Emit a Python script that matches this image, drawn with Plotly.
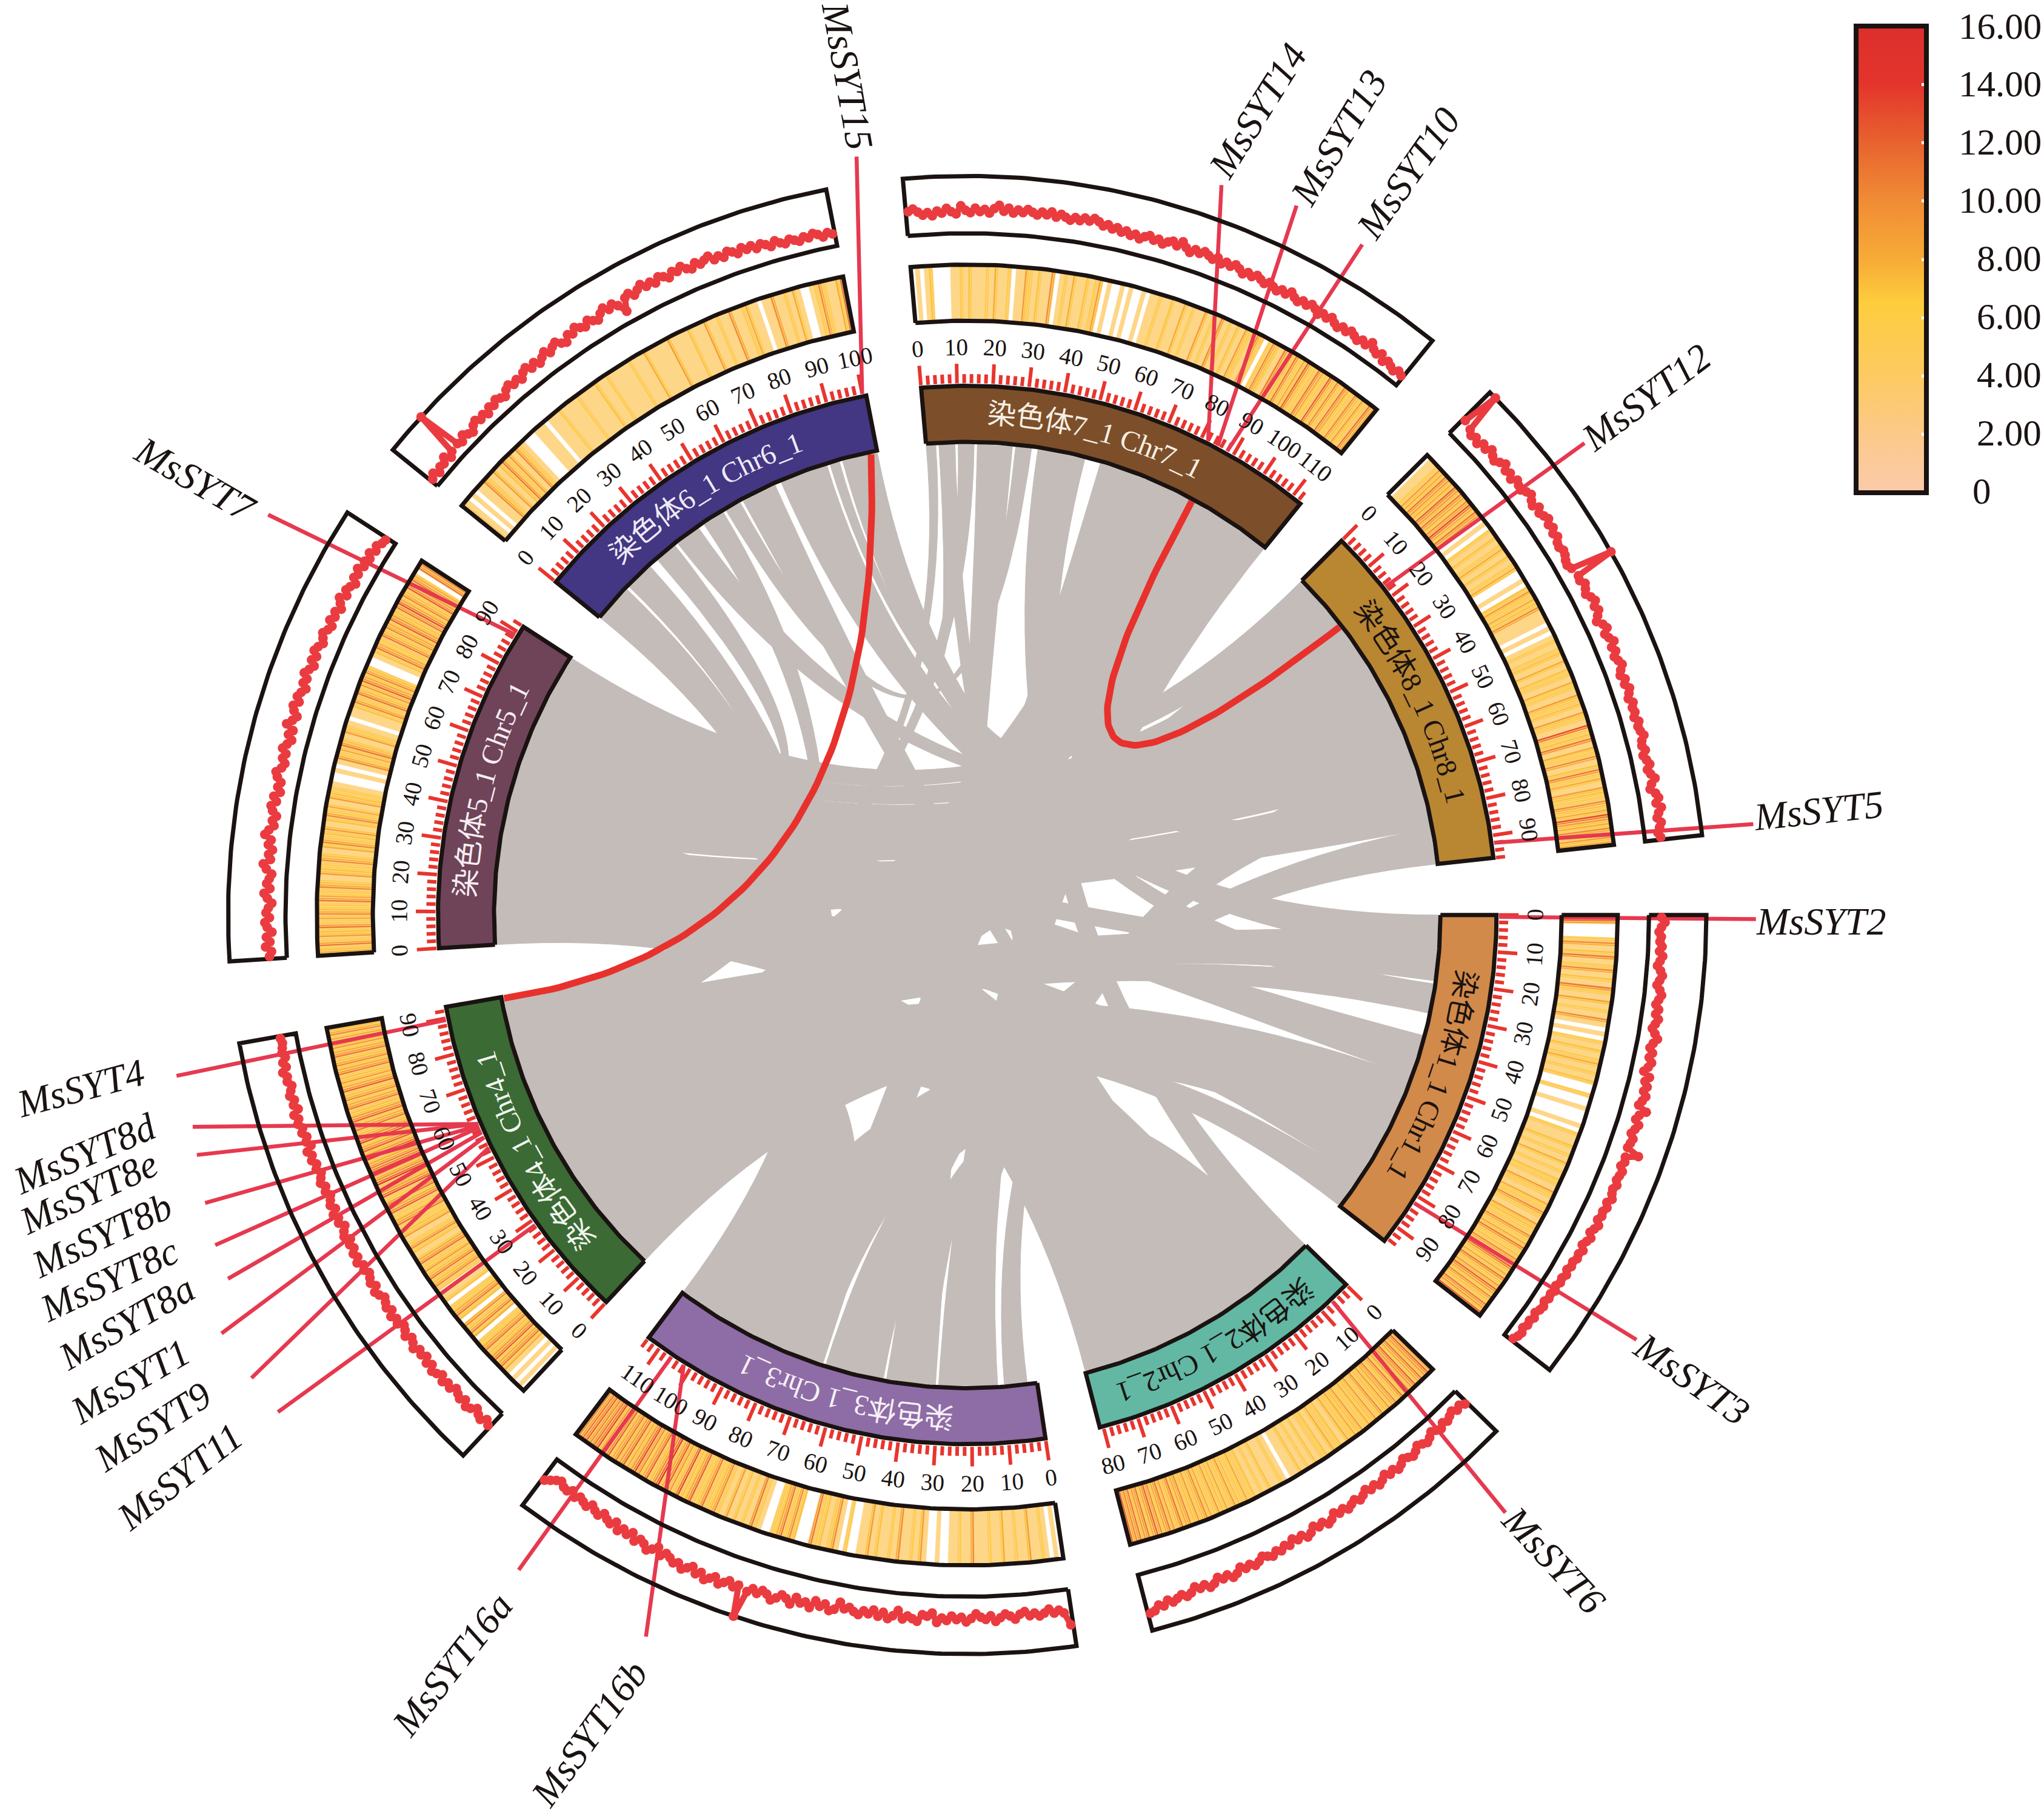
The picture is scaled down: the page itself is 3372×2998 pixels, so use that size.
import math
import plotly.graph_objects as go

W, H = 3372, 2998
DISP_W, DISP_H = 1568.0, 1394.0
CX, CY = 742.0, 702.0
PX = W / DISP_W

# ---------- chromosomes ----------
chrom_ids = [1, 2, 3, 4, 5, 6, 7, 8]
chrom_len = [95, 81, 114, 93, 92, 101, 113, 96]
chrom_start_deg = [90.0, 134.3, 171.5, 223.0, 266.4, 309.0, -5.0, 45.0]
chrom_end_deg = [128.0, 165.5, 217.0, 260.0, 303.0, 349.0, 39.0, 83.8]
chrom_color = ["#d18a4a", "#62b8a3", "#8e6ca6", "#3b6a35", "#6f4459", "#433682", "#7c4f2a", "#b98632"]
chrom_text_color = ["#1a1311", "#1a1311", "#f6f0f5", "#f2f6ee", "#f6eef2", "#eeeaf6", "#f7efe4", "#1a1311"]
chrom_label_shift = [0, 0, 0, 0, 0, -1, -2, 0]

# ---------- gene density heat ring (-1 = no data) ----------
heat_chr1 = [10,9,-1,-1,-1,4,8,3,5,9,3,4,8,3,5,3,9,4,3,7,3,4,3,8,3,-1,2,-1,4,3,5,3,4,6,3,4,3,5,-1,-1,4,-1,-1,3,-1,-1,-1,2,-1,4,3,3,5,3,4,3,6,3,4,3,5,4,3,7,4,3,6,4,8,4,3,7,5,4,8,4,6,9,4,5,8,5,10,5,6,9,5,7,10,6,8,5,9,7,10]
heat_chr2 = [8,10,7,9,6,10,7,8,6,9,5,8,6,7,5,8,4,7,5,6,4,7,5,6,4,6,3,5,4,6,3,5,4,3,5,3,4,3,5,3,3,-1,3,4,3,3,5,3,4,3,5,4,6,4,5,7,4,6,5,7,4,6,8,5,7,5,8,6,9,5,7,9,6,8,10,6,9,7,9,8,10]
heat_chr3 = [-1,3,-1,3,4,3,3,7,3,3,4,3,3,6,3,3,4,3,3,3,8,3,3,4,3,3,-1,-1,3,-1,-1,3,7,3,4,3,3,8,3,4,3,3,5,3,7,3,3,-1,-1,4,-1,3,8,4,3,5,4,9,-1,-1,-1,5,8,4,9,6,4,-1,-1,3,4,9,3,4,3,5,3,7,3,4,8,5,4,9,5,4,10,6,5,11,5,7,10,6,12,8,5,10,6,8,11,7,6,10,7,9,6,10,8,7,11,9,8,10,9,8]
heat_chr4 = [-1,2,-1,3,-1,2,6,9,6,10,7,5,9,6,4,-1,6,9,5,8,-1,5,9,6,4,-1,5,3,-1,4,8,5,9,5,7,4,9,6,3,5,8,4,3,7,5,4,9,6,4,10,6,9,4,11,7,5,12,8,5,11,9,6,12,7,10,6,11,8,5,9,6,10,7,5,9,6,8,5,10,6,7,5,9,6,8,5,9,6,7,10,6,8,5]
heat_chr5 = [8,5,9,4,7,5,9,4,6,8,5,4,9,6,4,8,5,3,7,5,4,8,5,3,6,8,4,5,7,3,5,8,4,6,3,7,5,4,3,-1,-1,2,-1,3,8,4,6,9,5,3,7,4,3,-1,3,2,5,8,4,9,5,7,10,6,8,5,-1,-1,3,5,9,6,4,9,5,8,6,10,7,5,9,11,6,8,5,10,7,9,6,-1,9,8]
heat_chr6 = [4,3,-1,2,-1,3,3,8,4,3,7,3,5,9,4,7,3,8,4,3,-1,-1,-1,3,3,3,-1,2,3,3,4,3,3,3,3,4,3,3,3,3,5,3,3,4,3,3,3,3,3,4,3,3,3,6,3,3,3,3,3,7,3,3,3,3,5,3,3,3,7,3,3,4,3,3,8,3,3,4,6,3,3,-1,3,3,8,3,3,4,3,6,3,-1,-1,2,4,8,4,3,3,6,9]
heat_chr7 = [-1,3,-1,3,5,-1,-1,-1,-1,3,3,4,3,5,3,3,3,4,3,6,3,3,4,-1,3,3,7,4,3,5,3,3,8,-1,3,4,3,6,3,3,5,3,4,7,-1,3,-1,-1,3,-1,3,-1,-1,3,-1,3,3,4,3,3,5,3,3,6,3,4,3,3,7,3,4,3,8,3,4,3,5,3,7,4,3,8,4,-1,4,8,5,3,9,4,5,9,4,6,10,5,4,9,6,4,10,5,8,4,9,6,4,8,5,7,4,9,6]
heat_chr8 = [-1,2,3,4,7,6,9,7,6,10,7,9,6,8,11,6,9,7,-1,2,-1,4,3,5,3,4,6,3,5,3,4,6,-1,-1,2,-1,5,7,4,6,5,8,3,3,3,-1,2,-1,3,4,3,4,5,3,6,3,5,4,3,6,4,3,7,4,5,3,7,4,3,11,4,5,9,3,6,4,8,3,5,9,4,6,3,7,5,4,8,5,6,11,7,6,8,5,7,6]
heat_values = [heat_chr1, heat_chr2, heat_chr3, heat_chr4, heat_chr5, heat_chr6, heat_chr7, heat_chr8]

# ---------- line track, percent of ring width from inner edge ----------
line_chr1 = [22,28,22,18,22,20,24,20,26,22,18,24,28,24,20,26,30,26,22,28,24,30,26,22,28,34,28,24,30,26,32,28,22,34,28,34,30,36,32,28,44,34,30,38,34,30,36,34,32,55,34,36,32,38,36,34,38,34,36,40,34,38,34,36,32,38,34,30,36,32,28,34,30,32,28,30,26,30,26,28,24,28,24,26,22,26,24,20,24,20,22,18,22,20,16]
line_chr2 = [28,22,26,20,24,28,24,30,26,22,28,32,28,24,30,34,30,26,32,36,30,34,28,34,38,32,36,30,36,40,34,38,42,36,40,34,42,46,38,42,36,44,48,40,44,38,46,42,48,44,50,46,42,48,52,46,50,44,52,56,48,52,46,54,58,50,54,48,56,60,54,58,62,56,64,60,68,70]
line_chr3 = [62,40,34,38,30,36,40,34,38,30,34,42,36,32,38,44,34,40,36,30,38,44,36,40,34,42,38,46,30,36,34,46,42,38,44,30,40,46,36,44,34,42,38,46,42,36,40,30,44,48,38,44,36,50,42,46,38,52,44,40,48,54,46,42,50,44,52,100,46,52,44,50,56,46,52,58,48,54,44,50,56,48,52,46,42,50,38,46,52,44,40,48,36,44,38,46,34,42,38,32,40,36,30,38,34,30,36,28,34,32,26,30,36,42]
line_chr4 = [32,26,34,30,24,32,36,28,34,30,26,34,30,36,28,34,38,30,36,28,34,30,38,32,28,36,30,26,34,30,36,28,34,30,26,32,36,28,34,30,26,32,28,36,30,34,28,32,26,34,30,24,32,28,34,26,32,28,24,30,26,32,28,24,30,26,32,28,34,24,30,26,32,28,34,30,36,26,32,28,34,30,26,32,30,36,28,32,26,30,28,26,28]
line_chr5 = [30,26,36,28,34,24,32,36,28,34,30,24,32,38,28,34,30,26,36,42,30,34,28,36,32,44,38,30,34,28,36,40,32,38,28,34,30,38,42,34,30,36,32,40,34,28,36,30,44,36,30,38,42,34,40,36,30,38,34,42,36,30,38,32,40,36,30,34,38,32,28,36,30,34,26,32,38,28,34,30,24,32,28,34,26,30,24,30,22,26,20,18]
line_chr6 = [14,20,12,18,16,24,14,20,100,22,18,26,20,16,24,28,22,26,20,28,24,30,26,22,30,34,28,32,26,34,38,30,36,28,34,40,32,38,42,34,30,40,36,44,38,34,42,36,32,40,46,38,44,36,20,42,46,38,44,50,42,46,40,48,44,38,46,42,48,40,36,44,38,42,46,36,40,34,42,38,32,40,34,38,30,36,32,26,34,28,24,30,26,22,28,24,30,26,20,26,22]
line_chr7 = [42,46,40,34,38,32,40,36,44,38,34,48,40,36,44,38,42,36,44,50,40,46,38,44,40,46,42,38,44,40,46,38,44,40,36,42,38,44,40,46,42,36,40,34,38,32,36,30,34,28,34,38,32,36,30,36,40,34,44,36,30,38,34,40,36,32,38,30,36,32,38,34,28,34,30,36,32,28,34,30,26,32,28,36,30,26,32,28,34,30,24,30,26,32,26,22,28,24,30,26,22,28,24,34,26,22,28,18,24,20,16,22,18]
line_chr8 = [35,100,30,24,28,22,30,26,34,28,24,30,36,28,32,26,34,30,28,34,38,32,28,36,30,34,38,32,36,30,34,28,26,30,28,24,22,26,100,30,28,34,30,26,32,36,30,34,28,22,30,34,26,30,36,28,32,26,30,34,28,24,30,26,32,28,24,30,26,28,24,30,26,28,32,26,24,28,22,26,30,24,28,34,26,22,30,34,28,36,30,26,32,28,24,28]
line_values = [line_chr1, line_chr2, line_chr3, line_chr4, line_chr5, line_chr6, line_chr7, line_chr8]

# ---------- grey links: chrA, startA, endA, chrB, startB, endB (Mb) ----------
links_chr_a = [1,1,1,1,1,1,1, 2,2,2,2,2,2, 3,3,3,3,3,3,3, 4,4,4,4,4,4, 5,5,5, 6,6,6,
               5,5,4,4,4,3,3,3,3,2,2,3,4,8,7,5,5,6]
links_a0 = [0,12,21,37,50,70,85, 0,12,24,32,50,62, 3,12,31,47,66,80,90, 11,17,60,70,83,45, 40,70,80, 33,51,86,
            5,36,60,55,10,67,17,32,48,12,50,67,30,5,70,52,5,78]
links_a1 = [12,20,30,50,70,85,95, 10,24,30,48,60,81, 10,30,46,65,80,90,114, 16,29,70,83,93,60, 45,80,92, 41,56,89,
            35,52,85,65,60,100,30,46,65,30,60,105,60,35,105,70,20,85]
links_chr_b = [6,5,6,5,4,5,4, 7,5,6,5,7,5, 8,7,7,8,7,6,6, 6,8,8,7,7,8, 6,8,8, 8,7,8,
               8,8,1,1,1,4,2,2,2,5,5,1,2,4,4,8,2,7]
links_b0 = [70,45,90,60,0,15,30, 35,60,57,0,4,30, 60,85,16,85,55,0,13, 43,30,42,0,10,12, 25,12,0, 50,28,75,
            68,45,5,21,50,15,5,25,50,30,15,50,12,20,15,30,40,4]
links_b1 = [85,60,101,70,10,30,45, 50,70,68,15,9,40, 75,113,27,96,85,12,22, 50,42,50,3,15,30, 32,28,10, 59,33,85,
            85,67,20,30,72,70,25,48,70,45,30,80,48,60,60,45,70,9]

# ---------- highlighted links ----------
red_a_chr = [4, 7]
red_a_mb = [92.5, 86]
red_b_chr = [6, 8]
red_b_mb = [99, 18]
red_ctrl_x = [-60, 0]
red_ctrl_y = [20, 0]

# ---------- genes ----------
gene_names = ["MsSYT15","MsSYT14","MsSYT13","MsSYT10","MsSYT12","MsSYT5","MsSYT2","MsSYT3","MsSYT6",
              "MsSYT16b","MsSYT16a","MsSYT11","MsSYT9","MsSYT1","MsSYT8a","MsSYT8c","MsSYT8b","MsSYT8e","MsSYT8d","MsSYT4","MsSYT7"]
gene_chr = [6,7,7,7,8,8,1,1,2,3,3,4,4,4,4,4,4,4,4,4,5]
gene_mb = [100,82,85,88,17,92,0.5,82,6,102,106,28.5,53,56,57.5,59,59.5,60,60,89.5,89]
leader_end_deg = [351.7,19.2,24.9,30.5,52.6,83.4,90.3,122.4,138,204,214.4,234.2,237.1,240.7,243.8,246.3,249.3,252.7,254.7,258.5,299.8]
leader_end_r = [588,593,600,597,596,607,605,608,617,606,609,652,654,656,632,630,625,619,616,619,618]
label_x = [650,965,1027,1080,1263,1395,1397,1298,1192,452,347,138,117,100,97,84,78,68,65,62,150]
label_y = [58,85,106,133,305,622,707,1058,1197,1330,1277,1133,1095,1060,1015,982,948,915,885,835,368]
label_angle = [80,-58,-59,-55,-37,-6,0,35,47,-54,-52,-38,-33,-30,-30,-25,-25,-25,-23,-15,30]

# ---------- colour bar ----------
cbar_vals = [0,2,4,6,8,10,12,14,16]
cbar_text = ["0","2.00","4.00","6.00","8.00","10.00","12.00","14.00","16.00"]
cscale_stops = [(0,"#fbcba9"),(2,"#fcc98a"),(4,"#fdca62"),(6.5,"#fecd3d"),(8,"#f7ab37"),(10,"#f08c35"),(12,"#e8632f"),(14,"#e3352c"),(16,"#dc2f2c")]
heat_base_color = "#fed688"

# radii (in reference display units)
R_LINK, R_BLOCK_IN, R_BLOCK_OUT = 361, 363, 406
R_TICK_MAJ, R_TICK_MIN, R_TLAB = 423, 415, 436
R_HEAT = (456, 499)
R_LINE = (523, 567)
R_TEXT = 385

def hex2rgb(h):
    return tuple(int(h[i:i+2], 16) for i in (1, 3, 5))

def heat_color(v):
    for (a, ca), (b, cb) in zip(cscale_stops, cscale_stops[1:]):
        if a <= v <= b:
            t = (v - a) / (b - a)
            ra, rb = hex2rgb(ca), hex2rgb(cb)
            return "rgb(%d,%d,%d)" % tuple(round(ra[i] + (rb[i] - ra[i]) * t) for i in range(3))
    return cscale_stops[-1][1]

def pol(r, deg):
    a = math.radians(deg)
    return r * math.sin(a), -r * math.cos(a)

def ang(c, mb):
    i = chrom_ids.index(c)
    return chrom_start_deg[i] + (chrom_end_deg[i] - chrom_start_deg[i]) * mb / chrom_len[i]

def arc(r, d0, d1, step=0.5):
    n = max(2, int(abs(d1 - d0) / step) + 1)
    return [pol(r, d0 + (d1 - d0) * k / (n - 1)) for k in range(n)]

def bez(p0, p2, n=40, c=(0, 0)):
    out = []
    for k in range(n + 1):
        t = k / n
        out.append(((1-t)**2*p0[0] + 2*t*(1-t)*c[0] + t**2*p2[0], (1-t)**2*p0[1] + 2*t*(1-t)*c[1] + t**2*p2[1]))
    return out

def unz(pts):
    return [p[0] for p in pts], [p[1] for p in pts]

fig = go.Figure()

def add_poly(pts, fill, line=None, lw=0):
    x, y = unz(pts)
    fig.add_trace(go.Scatter(x=x, y=y, mode="lines", fill="toself", fillcolor=fill,
                             line=dict(color=line or fill, width=lw), hoverinfo="skip", showlegend=False))

def add_line(x, y, color, lw):
    fig.add_trace(go.Scatter(x=x, y=y, mode="lines", line=dict(color=color, width=lw),
                             hoverinfo="skip", showlegend=False))

# grey ribbons
GREY = "#c3bcb9"
for ca, a0, a1, cb, b0, b1 in zip(links_chr_a, links_a0, links_a1, links_chr_b, links_b0, links_b1):
    A = arc(R_LINK, ang(ca, a0), ang(ca, a1))
    B = arc(R_LINK, ang(cb, b0), ang(cb, b1))
    add_poly(A + bez(A[-1], B[0]) + B + bez(B[-1], A[0]), GREY, GREY, 1)

# red links
for ca, ma, cb, mb, kx, ky in zip(red_a_chr, red_a_mb, red_b_chr, red_b_mb, red_ctrl_x, red_ctrl_y):
    x, y = unz(bez(pol(R_LINK, ang(ca, ma)), pol(R_LINK, ang(cb, mb)), 80, (kx, ky)))
    add_line(x, y, "#e8312c", 11)

BLACK = "#1a1311"
annos = []

widths = {"_": .5, " ": .25, "C": .667, "h": .5, "r": .333}
def char_w(c):
    if ord(c) > 0x2000:
        return 1.0
    return widths.get(c, .5)

def band(a0, a1):
    pts = arc(R_HEAT[0], a0, a1, 0.2) + arc(R_HEAT[1], a1, a0, 0.2)
    pts.append(pts[0])
    return unz(pts)

for i, c in enumerate(chrom_ids):
    d0, d1 = chrom_start_deg[i], chrom_end_deg[i]
    # heat cells: pale base plus fine stripes in the colour of the cell's value
    vals = heat_values[i]
    bins = {}
    bx, by = [], []
    for k, v in enumerate(vals):
        if v < 0:
            continue
        m0, m1 = chrom_len[i] * k / len(vals), chrom_len[i] * (k + 1) / len(vals)
        a0, a1 = ang(c, m0), ang(c, m1)
        x, y = band(a0, a1)
        bx += x + [None]
        by += y + [None]
        if v >= 4:
            bins.setdefault(min(v + 2, 14), []).append((a0 + .1 * (a1 - a0), a0 + .45 * (a1 - a0)))
            bins.setdefault(v, []).append((a0 + .6 * (a1 - a0), a0 + .88 * (a1 - a0)))
    fig.add_trace(go.Scatter(x=bx, y=by, mode="lines", fill="toself", fillcolor=heat_base_color,
                             line=dict(width=0.5, color=heat_base_color), hoverinfo="skip", showlegend=False))
    for v, cells in sorted(bins.items()):
        xs, ys = [], []
        for a0, a1 in cells:
            x, y = band(a0, a1)
            xs += x + [None]
            ys += y + [None]
        fig.add_trace(go.Scatter(x=xs, y=ys, mode="lines", fill="toself", fillcolor=heat_color(v),
                                 line=dict(width=0), hoverinfo="skip", showlegend=False))
    # block
    add_poly(arc(R_BLOCK_IN, d0, d1) + arc(R_BLOCK_OUT, d1, d0) + [pol(R_BLOCK_IN, d0)], chrom_color[i], BLACK, 7)
    # ticks
    xs, ys = [], []
    for mb in range(0, chrom_len[i] + 1, 2):
        a = ang(c, mb)
        r = R_TICK_MAJ if mb % 10 == 0 else R_TICK_MIN
        p, q = pol(R_BLOCK_OUT + 2, a), pol(r, a)
        xs += [p[0], q[0], None]
        ys += [p[1], q[1], None]
        if mb % 10 == 0:
            px_, py_ = pol(R_TLAB, a)
            ta = a % 360
            if 90 < ta < 270:
                ta -= 180
            elif ta >= 270:
                ta -= 360
            annos.append(dict(x=px_, y=py_, text=str(mb), textangle=ta, showarrow=False,
                              font=dict(family="Liberation Serif", size=39, color=BLACK)))
    add_line(xs, ys, "#e8352e", 6)
    # block label along the arc
    text = "染色体%d_1 Chr%d_1" % (c, c)
    fs = 22
    total = sum(char_w(ch) for ch in text) * fs
    pos = -total / 2
    mid = (d0 + d1) / 2 + chrom_label_shift[i]
    for ch in text:
        w = char_w(ch) * fs
        a = mid + math.degrees((pos + w / 2) / R_TEXT)
        pos += w
        if ch == " ":
            continue
        px_, py_ = pol(R_TEXT, a)
        annos.append(dict(x=px_, y=py_, text=ch, textangle=a, showarrow=False,
                          font=dict(family="Liberation Serif, Noto Sans CJK SC", size=fs * PX, color=chrom_text_color[i])))

# leader lines
for c, mb, de, re_ in zip(gene_chr, gene_mb, leader_end_deg, leader_end_r):
    p, q = pol(R_BLOCK_OUT + 2, ang(c, mb)), pol(re_, de)
    add_line([p[0], q[0]], [p[1], q[1]], "#e6394f", 6.5)

# ring frames and line track
for i, c in enumerate(chrom_ids):
    d0, d1 = chrom_start_deg[i], chrom_end_deg[i]
    for rr in (R_HEAT, R_LINE):
        pts = arc(rr[0], d0, d1) + arc(rr[1], d1, d0) + [pol(rr[0], d0)]
        x, y = unz(pts)
        add_line(x, y, BLACK, 7)
    vals = line_values[i]
    pts = [pol(R_LINE[0] + (R_LINE[1] - R_LINE[0]) * v / 100.0, ang(c, chrom_len[i] * (k + .5) / len(vals)))
           for k, v in enumerate(vals)]
    x, y = unz(pts)
    fig.add_trace(go.Scatter(x=x, y=y, mode="lines+markers", line=dict(color="#ea3c40", width=10),
                             marker=dict(color="#ea3c40", size=16), hoverinfo="skip", showlegend=False))

# gene labels
for name, lx, ly, la in zip(gene_names, label_x, label_y, label_angle):
    annos.append(dict(x=lx - CX, y=ly - CY, text="<i>%s</i>" % name, textangle=la, showarrow=False,
                      font=dict(family="Liberation Serif", size=64, color=BLACK)))

# colour bar
fig.add_trace(go.Scatter(
    x=[0], y=[0], mode="markers", hoverinfo="skip", showlegend=False,
    marker=dict(size=1, opacity=0, color=[8], cmin=0, cmax=16,
                colorscale=[[s / 16.0, col] for s, col in cscale_stops],
                colorbar=dict(x=1424 / DISP_W, xanchor="left", y=1 - 20 / DISP_H, yanchor="top",
                              len=358 * PX, lenmode="pixels", thickness=54 * PX, thicknessmode="pixels",
                              outlinecolor=BLACK, outlinewidth=8, borderwidth=0, xpad=0, ypad=0,
                              tickmode="array", tickvals=cbar_vals, ticktext=[""] * 9,
                              ticks="inside", ticklen=12, tickwidth=5, tickcolor="white"))))
for v, t in zip(cbar_vals, cbar_text):
    yy = 377 - (377 - 20) * v / 16.0
    if t == "0":
        annos.append(dict(x=1512 - CX, y=yy - CY, text=t, showarrow=False, xanchor="left",
                          font=dict(family="Liberation Serif", size=61, color=BLACK)))
    else:
        annos.append(dict(x=1567 - CX, y=yy - CY, text=t, showarrow=False, xanchor="right",
                          font=dict(family="Liberation Serif", size=61, color=BLACK)))

for a in annos:
    a.setdefault("xref", "x")
    a.setdefault("yref", "y")

fig.update_layout(
    width=W, height=H, margin=dict(l=0, r=0, t=0, b=0, pad=0, autoexpand=False),
    paper_bgcolor="white", plot_bgcolor="white", showlegend=False,
    xaxis=dict(visible=False, range=[-CX, DISP_W - CX], fixedrange=True),
    yaxis=dict(visible=False, range=[DISP_H - CY, -CY], fixedrange=True),
    annotations=annos,
)
fig.write_html("out.html", config={"displayModeBar": False},
               post_script="document.body.style.margin='0';document.body.style.overflow='hidden';")
